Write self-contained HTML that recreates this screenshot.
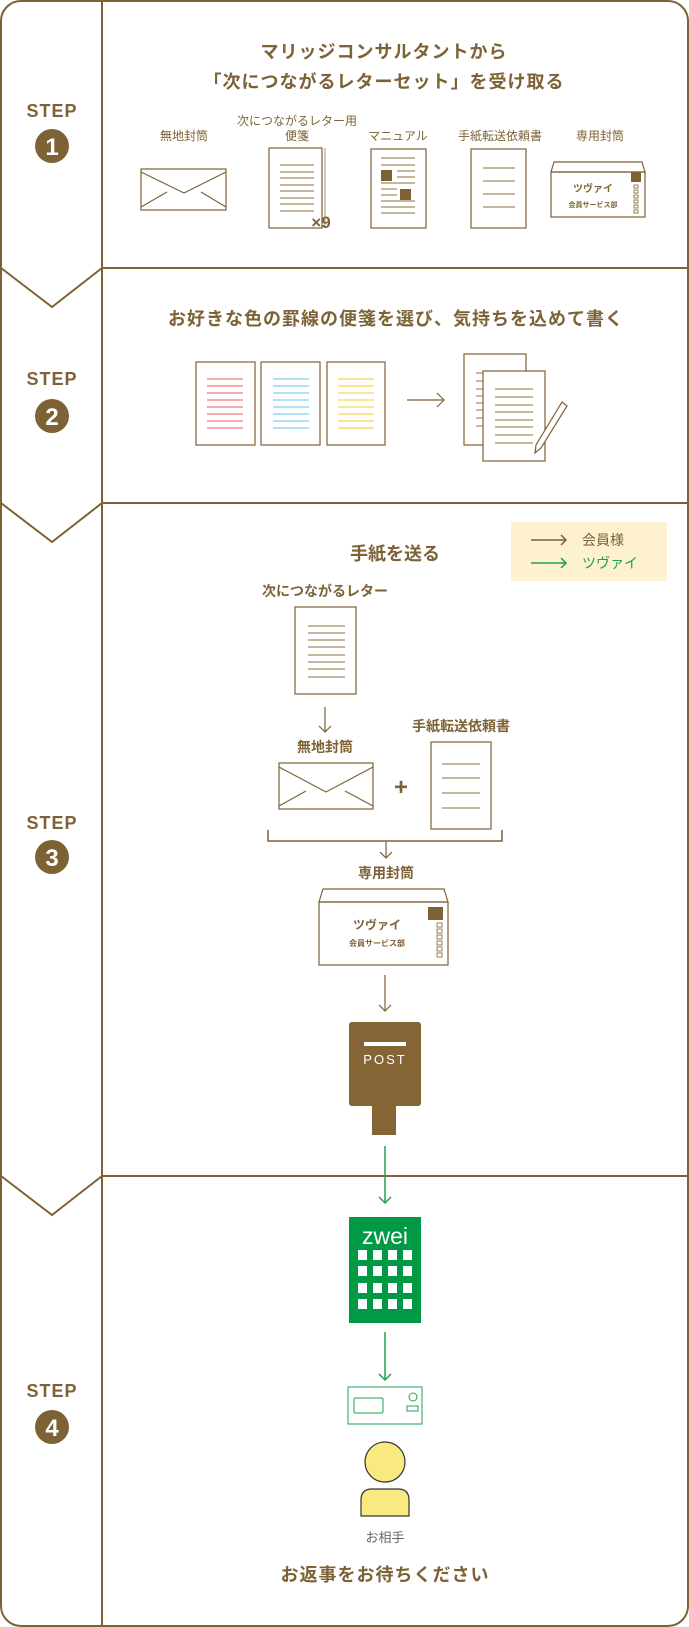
<!DOCTYPE html>
<html><head><meta charset="utf-8"><style>
html,body{margin:0;padding:0;background:#fff;}
svg{display:block;}
text{font-family:"Liberation Sans","Noto Sans CJK JP",sans-serif;}
</style></head><body>
<svg width="689" height="1627" viewBox="0 0 689 1627" xmlns="http://www.w3.org/2000/svg">
<g fill="none" stroke="#7d6236" stroke-width="2">
<rect x="1" y="1" width="687" height="1625" rx="20"/>
<line x1="102" y1="1" x2="102" y2="1626"/>
<line x1="102" y1="268" x2="688" y2="268"/><polyline points="1,268 52,307 102,268"/>
<line x1="102" y1="503" x2="688" y2="503"/><polyline points="1,503 52,542 102,503"/>
<line x1="102" y1="1176" x2="688" y2="1176"/><polyline points="1,1176 52,1215 102,1176"/>
</g>
<g fill="#7d6236" font-weight="bold" text-anchor="middle">
<text x="52" y="117" font-size="18" letter-spacing="1">STEP</text>
<circle cx="52" cy="146" r="17"/><text x="52" y="155" font-size="24" fill="#fff">1</text>
<text x="52" y="385" font-size="18" letter-spacing="1">STEP</text>
<circle cx="52" cy="416" r="17"/><text x="52" y="425" font-size="24" fill="#fff">2</text>
<text x="52" y="829" font-size="18" letter-spacing="1">STEP</text>
<circle cx="52" cy="857" r="17"/><text x="52" y="866" font-size="24" fill="#fff">3</text>
<text x="52" y="1397" font-size="18" letter-spacing="1">STEP</text>
<circle cx="52" cy="1427" r="17"/><text x="52" y="1436" font-size="24" fill="#fff">4</text>
</g>
<!-- STEP1 -->
<g fill="#7d6236" text-anchor="middle" font-weight="bold">
<text x="384" y="58" font-size="18" letter-spacing="1">マリッジコンサルタントから</text>
<text x="384" y="88" font-size="18" letter-spacing="1">「次につながるレターセット」を受け取る</text>
<g font-size="12" font-weight="normal">
<text x="184" y="140">無地封筒</text>
<text x="297" y="125">次につながるレター用</text>
<text x="297" y="140">便箋</text>
<text x="398" y="140">マニュアル</text>
<text x="500" y="140">手紙転送依頼書</text>
<text x="600" y="140">専用封筒</text>
</g></g>
<g fill="none" stroke="#7d6236" stroke-width="1.2">
<rect x="141" y="169" width="85" height="41"/><polyline points="141,172 184,193 226,172"/>
<line x1="141" y1="207" x2="167" y2="192"/><line x1="226" y1="207" x2="201" y2="192"/>
<line x1="325" y1="148" x2="325" y2="228" stroke="#b8a684"/>
<rect x="269" y="148" width="53" height="80"/>
<g stroke="#a08a60"><line x1="280" y1="165" x2="314" y2="165"/><line x1="280" y1="172" x2="314" y2="172"/><line x1="280" y1="178" x2="314" y2="178"/><line x1="280" y1="185" x2="314" y2="185"/><line x1="280" y1="191" x2="314" y2="191"/><line x1="280" y1="198" x2="314" y2="198"/><line x1="280" y1="204" x2="314" y2="204"/><line x1="280" y1="211" x2="314" y2="211"/></g>
<rect x="371" y="149" width="55" height="79"/>
<g stroke="#a08a60"><line x1="381" y1="158" x2="415" y2="158"/><line x1="381" y1="165" x2="415" y2="165"/><line x1="397" y1="171" x2="415" y2="171"/><line x1="397" y1="177" x2="415" y2="177"/><line x1="381" y1="183" x2="415" y2="183"/><line x1="381" y1="189" x2="397" y2="189"/><line x1="381" y1="195" x2="397" y2="195"/><line x1="381" y1="201" x2="415" y2="201"/><line x1="381" y1="207" x2="415" y2="207"/><line x1="381" y1="213" x2="415" y2="213"/></g>
<rect x="471" y="149" width="55" height="79"/>
<g stroke="#a08a60"><line x1="483" y1="168" x2="515" y2="168"/><line x1="483" y1="181" x2="515" y2="181"/><line x1="483" y1="194" x2="515" y2="194"/><line x1="483" y1="207" x2="515" y2="207"/></g>
<polygon points="551,172 554,162 642,162 645,172"/><rect x="551" y="172" width="94" height="45"/>
<g stroke-width="0.8"><rect x="634" y="185" width="4" height="3"/><rect x="634" y="190" width="4" height="3"/><rect x="634" y="195" width="4" height="3"/><rect x="634" y="200" width="4" height="3"/><rect x="634" y="205" width="4" height="3"/><rect x="634" y="210" width="4" height="3"/></g>
</g>
<rect x="381" y="170" width="11" height="11" fill="#7d6236"/><rect x="400" y="189" width="11" height="11" fill="#7d6236"/>
<rect x="631" y="172" width="10" height="10" fill="#7d6236"/>
<text x="321" y="228" font-size="17" font-weight="bold" fill="#7d6236" text-anchor="middle">×9</text>
<text x="593" y="192" font-size="10" font-weight="bold" fill="#7d6236" text-anchor="middle">ツヴァイ</text>
<text x="593" y="207" font-size="7" font-weight="bold" fill="#7d6236" text-anchor="middle">会員サービス部</text>
<!-- STEP2 -->
<text x="396" y="325" font-size="18" font-weight="bold" fill="#7d6236" text-anchor="middle" letter-spacing="1">お好きな色の罫線の便箋を選び、気持ちを込めて書く</text>
<g fill="none" stroke-width="1.2">
<rect x="196" y="362" width="59" height="83" stroke="#7d6236"/>
<rect x="261" y="362" width="59" height="83" stroke="#7d6236"/>
<rect x="327" y="362" width="58" height="83" stroke="#7d6236"/>
<g stroke="#f07878"><line x1="207" y1="379" x2="243" y2="379"/><line x1="207" y1="386" x2="243" y2="386"/><line x1="207" y1="393" x2="243" y2="393"/><line x1="207" y1="400" x2="243" y2="400"/><line x1="207" y1="407" x2="243" y2="407"/><line x1="207" y1="414" x2="243" y2="414"/><line x1="207" y1="421" x2="243" y2="421"/><line x1="207" y1="428" x2="243" y2="428"/></g>
<g stroke="#7fd0f0"><line x1="273" y1="379" x2="309" y2="379"/><line x1="273" y1="386" x2="309" y2="386"/><line x1="273" y1="393" x2="309" y2="393"/><line x1="273" y1="400" x2="309" y2="400"/><line x1="273" y1="407" x2="309" y2="407"/><line x1="273" y1="414" x2="309" y2="414"/><line x1="273" y1="421" x2="309" y2="421"/><line x1="273" y1="428" x2="309" y2="428"/></g>
<g stroke="#f8d850"><line x1="338" y1="379" x2="374" y2="379"/><line x1="338" y1="386" x2="374" y2="386"/><line x1="338" y1="393" x2="374" y2="393"/><line x1="338" y1="400" x2="374" y2="400"/><line x1="338" y1="407" x2="374" y2="407"/><line x1="338" y1="414" x2="374" y2="414"/><line x1="338" y1="421" x2="374" y2="421"/><line x1="338" y1="428" x2="374" y2="428"/></g>
<g stroke="#7d6236"><line x1="407" y1="400" x2="444" y2="400"/><polyline points="437,393 444,400 437,407"/>
<rect x="464" y="354" width="62" height="91" fill="#fff"/>
<g stroke="#a08a60"><line x1="476" y1="373" x2="483" y2="373"/><line x1="476" y1="381" x2="483" y2="381"/><line x1="476" y1="389" x2="483" y2="389"/><line x1="476" y1="396" x2="483" y2="396"/><line x1="476" y1="403" x2="483" y2="403"/><line x1="476" y1="410" x2="483" y2="410"/><line x1="476" y1="418" x2="483" y2="418"/><line x1="476" y1="426" x2="483" y2="426"/></g>
<rect x="483" y="371" width="62" height="90" fill="#fff"/>
<g stroke="#a08a60"><line x1="495" y1="389" x2="533" y2="389"/><line x1="495" y1="397" x2="533" y2="397"/><line x1="495" y1="405" x2="533" y2="405"/><line x1="495" y1="412" x2="533" y2="412"/><line x1="495" y1="420" x2="533" y2="420"/><line x1="495" y1="427" x2="533" y2="427"/><line x1="495" y1="435" x2="533" y2="435"/><line x1="495" y1="443" x2="533" y2="443"/></g>
<polygon points="562,402 567,406 541,448 535,453 536,445" fill="#fff"/>
</g></g>
<!-- STEP3 -->
<rect x="511" y="522" width="156" height="59" fill="#fdf1d0"/>
<g fill="none" stroke-width="1.5"><g stroke="#7d6236"><line x1="531" y1="540" x2="566" y2="540"/><polyline points="561,535 566,540 561,545"/></g>
<g stroke="#22a050"><line x1="531" y1="563" x2="566" y2="563"/><polyline points="561,558 566,563 561,568"/></g></g>
<text x="582" y="545" font-size="14" fill="#7d6236">会員様</text>
<text x="582" y="568" font-size="14" fill="#22a050">ツヴァイ</text>
<g fill="#7d6236" text-anchor="middle" font-weight="bold">
<text x="395" y="560" font-size="18">手紙を送る</text>
<text x="325" y="596" font-size="14">次につながるレター</text>
<text x="325" y="752" font-size="14">無地封筒</text>
<text x="461" y="731" font-size="14">手紙転送依頼書</text>
<text x="386" y="878" font-size="14">専用封筒</text>
<text x="401" y="795" font-size="24">+</text>
<text x="377" y="929" font-size="12">ツヴァイ</text>
<text x="377" y="946" font-size="8">会員サービス部</text>
</g>
<g fill="none" stroke="#7d6236" stroke-width="1.2">
<rect x="295" y="607" width="61" height="87"/>
<g stroke="#a08a60"><line x1="308" y1="626" x2="345" y2="626"/><line x1="308" y1="633" x2="345" y2="633"/><line x1="308" y1="640" x2="345" y2="640"/><line x1="308" y1="647" x2="345" y2="647"/><line x1="308" y1="655" x2="345" y2="655"/><line x1="308" y1="662" x2="345" y2="662"/><line x1="308" y1="669" x2="345" y2="669"/><line x1="308" y1="677" x2="345" y2="677"/></g>
<line x1="325" y1="707" x2="325" y2="732"/><polyline points="319,726 325,732 331,726"/>
<rect x="279" y="763" width="94" height="46"/><polyline points="279,767 326,792 373,767"/>
<line x1="279" y1="806" x2="306" y2="791"/><line x1="373" y1="806" x2="345" y2="791"/>
<rect x="431" y="742" width="60" height="87"/>
<g stroke="#a08a60"><line x1="442" y1="764" x2="480" y2="764"/><line x1="442" y1="778" x2="480" y2="778"/><line x1="442" y1="793" x2="480" y2="793"/><line x1="442" y1="808" x2="480" y2="808"/></g>
<polyline points="268,830 268,841 502,841 502,830" stroke-width="1.5"/>
<line x1="386" y1="841" x2="386" y2="858"/><polyline points="380,852 386,858 392,852"/>
<polygon points="319,902 323,889 444,889 448,902"/><rect x="319" y="902" width="129" height="63"/>
<g stroke-width="0.8"><rect x="437" y="923" width="5" height="4"/><rect x="437" y="929" width="5" height="4"/><rect x="437" y="935" width="5" height="4"/><rect x="437" y="941" width="5" height="4"/><rect x="437" y="947" width="5" height="4"/><rect x="437" y="953" width="5" height="4"/></g>
<line x1="385" y1="975" x2="385" y2="1011"/><polyline points="379,1005 385,1011 391,1005"/>
</g>
<rect x="428" y="907" width="15" height="13" fill="#7d6236"/>
<rect x="349" y="1022" width="72" height="84" rx="3" fill="#856436"/>
<rect x="372" y="1104" width="24" height="31" fill="#856436"/>
<rect x="364" y="1042" width="42" height="4" fill="#fff"/>
<text x="385" y="1064" font-size="13" fill="#fff" text-anchor="middle" letter-spacing="2">POST</text>
<!-- STEP4 -->
<g fill="none" stroke="#22a050" stroke-width="1.5">
<line x1="385" y1="1146" x2="385" y2="1203"/><polyline points="379,1197 385,1203 391,1197"/>
<line x1="385" y1="1332" x2="385" y2="1380"/><polyline points="379,1374 385,1380 391,1374"/>
</g>
<rect x="349" y="1217" width="72" height="106" fill="#009a44"/>
<text x="385" y="1244" font-size="23" fill="#fff" text-anchor="middle">zwei</text>
<g fill="#fff">
<rect x="358" y="1250" width="9" height="10"/><rect x="373" y="1250" width="9" height="10"/><rect x="388" y="1250" width="9" height="10"/><rect x="403" y="1250" width="9" height="10"/>
<rect x="358" y="1266" width="9" height="10"/><rect x="373" y="1266" width="9" height="10"/><rect x="388" y="1266" width="9" height="10"/><rect x="403" y="1266" width="9" height="10"/>
<rect x="358" y="1283" width="9" height="10"/><rect x="373" y="1283" width="9" height="10"/><rect x="388" y="1283" width="9" height="10"/><rect x="403" y="1283" width="9" height="10"/>
<rect x="358" y="1299" width="9" height="10"/><rect x="373" y="1299" width="9" height="10"/><rect x="388" y="1299" width="9" height="10"/><rect x="403" y="1299" width="9" height="10"/>
</g>
<g fill="none" stroke="#22a050" stroke-width="1">
<rect x="348" y="1387" width="74" height="37"/><rect x="354" y="1398" width="29" height="15" rx="1.5"/>
<circle cx="413" cy="1397" r="4"/><rect x="407" y="1406" width="11" height="5"/>
</g>
<circle cx="385" cy="1462" r="20" fill="#f8ea80" stroke="#333" stroke-width="1.2"/>
<path d="M361,1516 L361,1500 Q361,1489 372,1489 L398,1489 Q409,1489 409,1500 L409,1516 Z" fill="#f8ea80" stroke="#333" stroke-width="1.2"/>
<text x="385" y="1542" font-size="13" fill="#666" text-anchor="middle">お相手</text>
<text x="385" y="1581" font-size="18" font-weight="bold" fill="#7d6236" text-anchor="middle" letter-spacing="1">お返事をお待ちください</text>
</svg>
</body></html>
